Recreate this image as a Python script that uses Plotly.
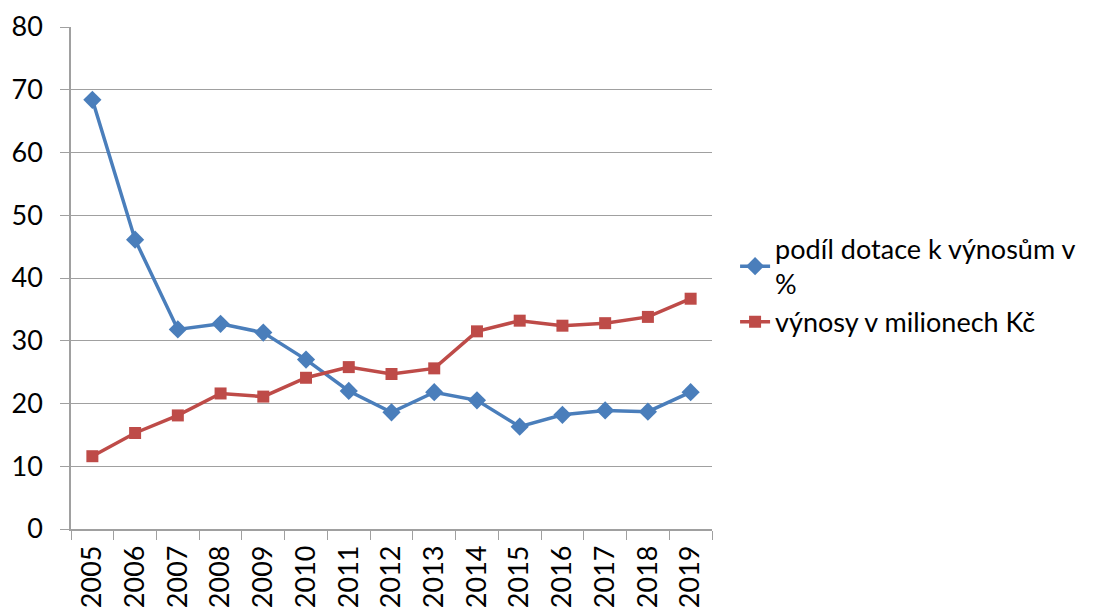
import plotly.graph_objects as go

years = [str(y) for y in range(2005, 2020)]
podil = [68.4, 46.1, 31.8, 32.7, 31.3, 27.0, 22.0, 18.6, 21.8, 20.5, 16.3, 18.2, 18.9, 18.7, 21.8]
vynosy = [11.6, 15.3, 18.1, 21.6, 21.1, 24.1, 25.8, 24.7, 25.6, 31.5, 33.2, 32.4, 32.8, 33.8, 36.7]

name1 = "podíl dotace k výnosům v<br>%"
name2 = "výnosy v milionech Kč"

fig = go.Figure()
fig.add_trace(go.Scatter(x=years, y=podil, name=name1, mode="lines+markers",
                         line=dict(color="#4A7EBB", width=3.5),
                         marker=dict(symbol="diamond", size=14, color="#4A7EBB")))
fig.add_trace(go.Scatter(x=years, y=vynosy, name=name2, mode="lines+markers",
                         line=dict(color="#BE4B48", width=3.5),
                         marker=dict(symbol="square", size=12, color="#BE4B48")))

fig.update_layout(
    width=1095, height=614,
    margin=dict(l=63, r=391, t=19, b=93, autoexpand=False),
    paper_bgcolor="white", plot_bgcolor="white",
    font=dict(family="Lato, Open Sans, sans-serif", color="black"),
    legend=dict(x=1.036, y=0.485, xanchor="left", yanchor="middle",
                font=dict(size=27), tracegroupgap=22, itemwidth=30),
    showlegend=True,
)
fig.update_xaxes(type="category", tickson="boundaries", ticks="outside", ticklen=9,
                 tickcolor="#a0a0a0", tickangle=-90, tickfont=dict(size=27),
                 ticklabelstandoff=4,
                 showline=True, linecolor="#a0a0a0", linewidth=1.5, showgrid=False,
                 range=[-0.5, 14.5], automargin=False)
fig.update_yaxes(range=[0, 80], dtick=10, ticks="outside", ticklen=9, tickcolor="#a0a0a0",
                 tickfont=dict(size=27), ticklabelstandoff=12,
                 showgrid=True, gridcolor="#a0a0a0", gridwidth=1.2,
                 showline=True, linecolor="#a0a0a0", linewidth=1.5, zeroline=False,
                 automargin=False)

fig.write_html("out.html")
